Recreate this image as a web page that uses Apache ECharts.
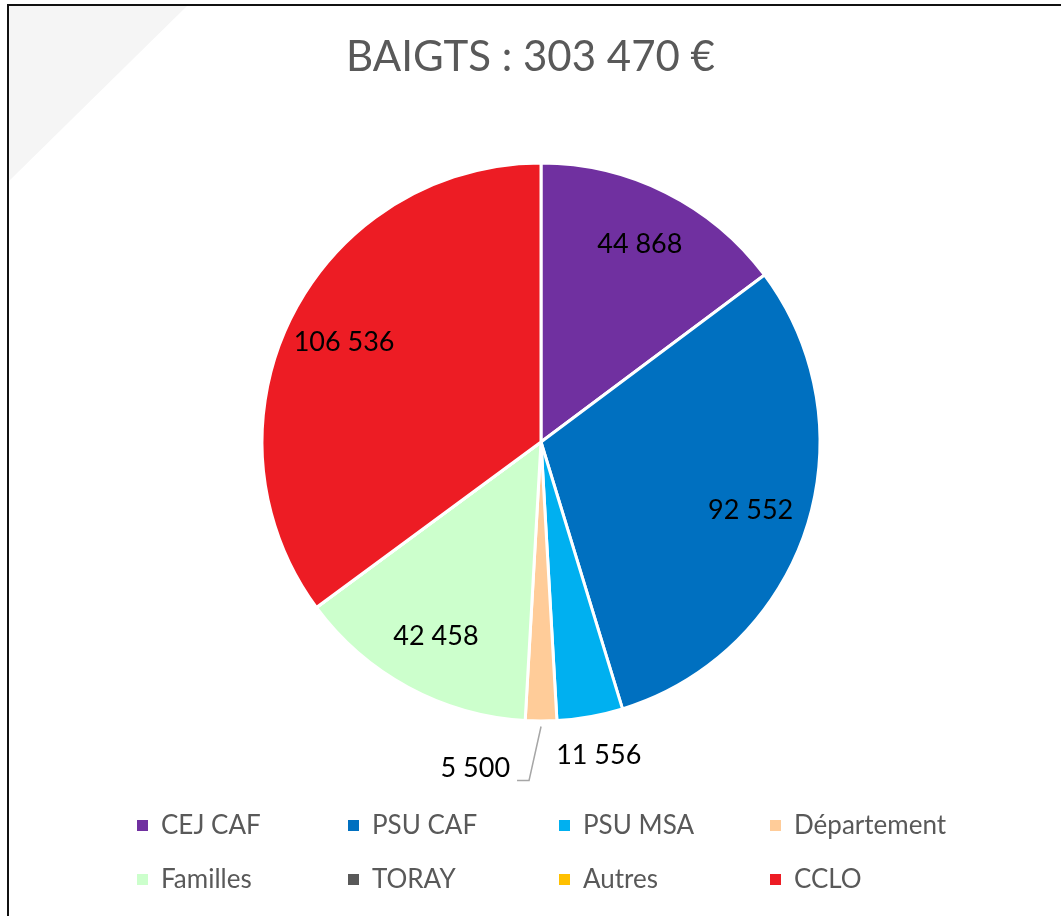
<!DOCTYPE html>
<html>
<head>
<meta charset="utf-8">
<script src="https://cdn.jsdelivr.net/npm/echarts@6/dist/echarts.min.js"></script>
<style>
  html, body { margin: 0; padding: 0; background: #fff; }
  #main { width: 1061px; height: 916px; }
</style>
</head>
<body>
<div id="main"></div>
<script>
var titleText = 'BAIGTS : 303 470 €';
var categories = ['CEJ CAF', 'PSU CAF', 'PSU MSA', 'Département', 'Familles', 'TORAY', 'Autres', 'CCLO'];
var values = [44868, 92552, 11556, 5500, 42458, 0, 0, 106536];
var colors = ['#7030A0', '#0070C0', '#00B0F0', '#FFCC99', '#CCFFCC', '#595959', '#FFC000', '#ED1C24'];
// slices whose label sits outside the pie
var outsideLabels = ['PSU MSA', 'Département'];

var chartDom = document.getElementById('main');
var myChart = echarts.init(chartDom);
var option;

function fmt(v) {
  return String(v).replace(/\B(?=(\d{3})+(?!\d))/g, ' ');
}

var font = 'Lato';
var center = [541, 442];
var radius = 279;

var mainData = categories.map(function (name, i) {
  var item = { name: name, value: values[i], itemStyle: { color: colors[i] } };
  if (outsideLabels.indexOf(name) >= 0) {
    item.label = { show: true };
    item.labelLine = { show: name === 'Département' };
  }
  return item;
});

var labelData = categories.map(function (name, i) {
  return {
    name: name,
    value: values[i],
    label: { show: values[i] > 0 && outsideLabels.indexOf(name) < 0 }
  };
});

option = {
  animation: false,
  color: colors,
  title: {
    text: titleText,
    left: 'center',
    top: 31,
    textStyle: { fontFamily: font, fontSize: 42, fontWeight: 'normal', color: '#595959' }
  },
  legend: {
    left: 135,
    top: 801,
    width: 860,
    padding: 0,
    itemWidth: 13,
    itemHeight: 13,
    itemGap: 5,
    icon: 'rect',
    data: categories,
    textStyle: {
      fontFamily: font,
      fontSize: 26,
      color: '#595959',
      width: 180,
      lineHeight: 49,
      padding: [0, 0, 0, 7]
    }
  },
  graphic: [
    {
      type: 'polygon',
      silent: true,
      z: -10,
      shape: { points: [[9, 6], [187, 6], [9, 181]] },
      style: { fill: '#f5f5f5' }
    },
    {
      type: 'rect',
      silent: true,
      shape: { x: 8, y: 5, width: 1100, height: 1000 },
      style: { fill: null, stroke: '#111', lineWidth: 2 }
    }
  ],
  series: [
    {
      name: 'Financement',
      type: 'pie',
      center: center,
      radius: radius,
      startAngle: 90,
      clockwise: true,
      itemStyle: { borderColor: '#fff', borderWidth: 3 },
      label: {
        show: false,
        position: 'outside',
        fontFamily: font,
        fontSize: 27,
        color: '#000',
        formatter: function (p) { return fmt(p.value); }
      },
      labelLine: {
        length: 38,
        length2: 0,
        lineStyle: { color: '#a6a6a6', width: 1.5 }
      },
      labelLayout: function (p) {
        var r = p.rect;
        var bottom = r.y + r.height;
        if (p.dataIndex === 2) {
          return {
            x: r.x + r.width / 2 + 17,
            y: bottom + 33,
            align: 'center',
            verticalAlign: 'middle'
          };
        }
        if (p.dataIndex === 3) {
          var cx = r.x + r.width / 2;
          return {
            x: cx - 31,
            y: bottom + 46,
            align: 'right',
            verticalAlign: 'middle',
            labelLinePoints: [[cx, bottom + 4], [cx - 12, bottom + 58], [cx - 24, bottom + 58]]
          };
        }
      },
      data: mainData
    },
    {
      name: 'Etiquettes',
      type: 'pie',
      silent: true,
      center: center,
      radius: [radius * 0.56, radius],
      startAngle: 90,
      clockwise: true,
      itemStyle: { color: 'rgba(0,0,0,0)', borderWidth: 0 },
      label: {
        position: 'inside',
        fontFamily: font,
        fontSize: 27,
        color: '#000',
        formatter: function (p) { return fmt(p.value); }
      },
      labelLine: { show: false },
      data: labelData
    }
  ]
};

myChart.setOption(option);
</script>
</body>
</html>
